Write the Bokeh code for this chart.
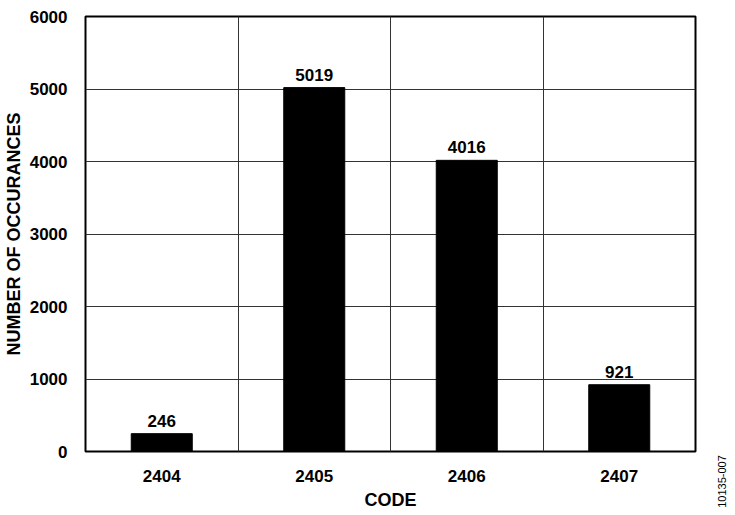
import math
from bokeh.plotting import figure
from bokeh.layouts import row
from bokeh.models import ColumnDataSource, Range1d, FixedTicker, Label, LabelSet
from bokeh.core.properties import value
from bokeh.embed import file_html
from bokeh.resources import INLINE

codes = ["2404", "2405", "2406", "2407"]
counts = [246, 5019, 4016, 921]
y_ticks = [0, 1000, 2000, 3000, 4000, 5000, 6000]
figure_id = "10135-007"

xs = [i + 0.5 for i in range(len(codes))]
src = ColumnDataSource(dict(x=xs, top=counts, lab=[str(c) for c in counts]))

FONT = "Liberation Sans"

p = figure(output_backend="svg", toolbar_location=None,
           x_range=Range1d(0, len(codes)), y_range=Range1d(0, 6000),
           min_border_left=78, min_border_right=20, min_border_top=16, min_border_bottom=56)
p.frame_width = 610
p.frame_height = 435

p.vbar(x="x", top="top", width=0.4, bottom=0, source=src, color="black")

labels = LabelSet(x="x", y="top", text="lab", source=src, text_align="center",
                  text_baseline="bottom", y_offset=7, text_font=value(FONT),
                  text_font_style="bold", text_font_size="17px", text_color="black")
p.add_layout(labels)

p.xaxis.ticker = FixedTicker(ticks=xs)
p.xaxis.major_label_overrides = {x: c for x, c in zip(xs, codes)}
p.yaxis.ticker = FixedTicker(ticks=y_ticks)
p.xgrid.ticker = FixedTicker(ticks=list(range(1, len(codes))))
p.ygrid.ticker = FixedTicker(ticks=y_ticks)

for g in (p.xgrid, p.ygrid):
    g.grid_line_color = "#333333"
    g.grid_line_width = 1
    g.grid_line_alpha = 1

for ax in (p.xaxis, p.yaxis):
    ax.axis_line_color = None
    ax.major_tick_line_color = None
    ax.minor_tick_line_color = None
    ax.major_label_text_font = FONT
    ax.major_label_text_font_style = "bold"
    ax.major_label_text_font_size = "17px"
    ax.major_label_text_color = "black"
    ax.axis_label_text_font = FONT
    ax.axis_label_text_font_style = "bold"
    ax.axis_label_text_font_size = "18px"
    ax.axis_label_text_color = "black"

p.xaxis.axis_label = "CODE"
p.yaxis.axis_label = "NUMBER OF OCCURANCES"
p.xaxis.major_label_standoff = 12
p.yaxis.major_label_standoff = 12
p.xaxis.axis_label_standoff = 5
p.yaxis.axis_label_standoff = 3

p.outline_line_color = "black"
p.outline_line_width = 2
p.outline_line_alpha = 1

# narrow side strip holding the vertical figure id
side = figure(output_backend="svg", toolbar_location=None,
              x_range=Range1d(0, 14), y_range=Range1d(0, 491),
              x_axis_type=None, y_axis_type=None,
              min_border_left=0, min_border_right=0, min_border_top=16, min_border_bottom=0)
side.frame_width = 14
side.frame_height = 491
side.outline_line_color = None
side.xgrid.visible = False
side.ygrid.visible = False

note = Label(x=6, y=26, text=figure_id,
             angle=math.pi / 2, text_align="center", text_baseline="middle",
             text_font=FONT, text_font_size="11px", text_color="black")
side.add_layout(note)

layout = row(p, side)
open("out.html", "w").write(file_html(layout, INLINE))
